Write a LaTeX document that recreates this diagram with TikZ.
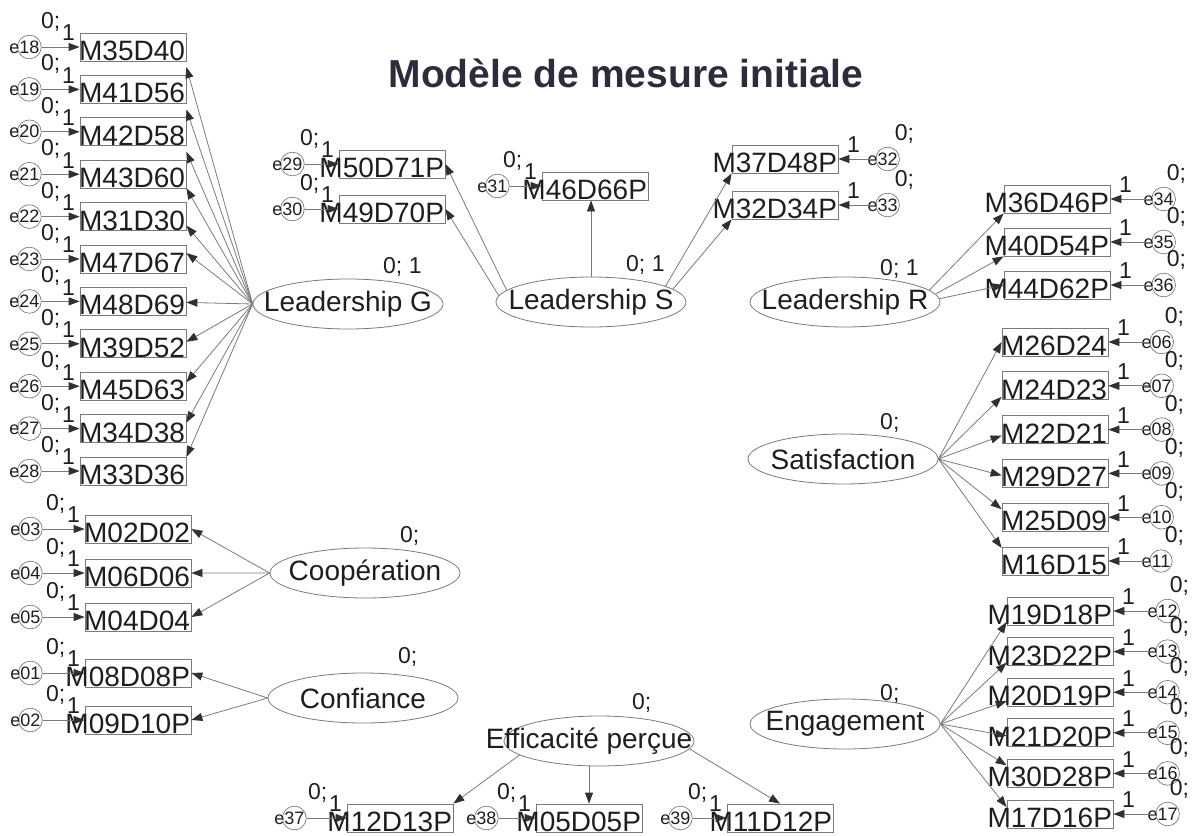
\documentclass[tikz,border=0pt]{standalone}
\usepackage{fontspec}
\setmainfont{Liberation Sans}
\usetikzlibrary{arrows.meta, positioning, shapes.geometric, calc}
\definecolor{linegray}{HTML}{7A7A7A}
\definecolor{tipgray}{HTML}{303030}
\definecolor{inkgray}{HTML}{1E1E1E}
\definecolor{titleink}{HTML}{2C2C3C}
\newcommand\indfont{\fontsize{28}{30}\selectfont}
\newcommand\lblfont{\fontsize{23}{25}\selectfont}
\newcommand\errfont{\fontsize{18}{20}\selectfont}
\newcommand\obsname[1]{\makebox[104pt][r]{\raisebox{0pt}[27pt][0pt]{#1}}}
\newcommand\latname[1]{\makebox[0pt]{#1}}

\begin{document}
\begin{tikzpicture}[
    x=1pt, y=-1pt,
    text=inkgray,
    headline/.style={font=\bfseries\fontsize{39}{41}\selectfont, text=titleink, inner sep=0pt},
    ind/.style={draw=linegray, line width=0.8pt, minimum width=106, minimum height=28, inner sep=0pt, font=\indfont},
    lat/.style={ellipse, draw=linegray, line width=0.8pt, minimum width=190, minimum height=50, inner sep=0pt, font=\indfont},
    err/.style={circle, draw=linegray, line width=0.7pt, minimum size=21, inner sep=0pt, font=\errfont},
    lbl/.style={inner sep=0pt, font=\lblfont},
    load/.style={draw=linegray, line width=0.8pt, -{Triangle[length=11pt, width=8pt, color=tipgray]}}
]
  \useasboundingbox (0,0) rectangle (1196,835);
  \node[headline] (title) at (626,73) {Modèle de mesure initiale};

  % latent variables
  \node[lat] (LG) at (348,304) {\latname{Leadership G}};
  \node[lat] (LS) at (591,302) {\latname{Leadership S}};
  \node[lat] (LR) at (845,302) {\latname{Leadership R}};
  \node[lat] (Sat) at (843,459) {\latname{Satisfaction}};
  \node[lat] (Coop) at (365,573) {\latname{Coopération}};
  \node[lat] (Conf) at (363,698) {\latname{Confiance}};
  \node[lat] (Eng) at (845,724) {\latname{Engagement}};
  \node[lat] (EP) at (599,741) {\latname{\hspace*{-20pt}Efficacité perçue}};
  \node[lbl, anchor=west] (vLG) at ($(LG)+(35,-37)$) {0; 1};
  \node[lbl, anchor=west] (vLS) at ($(LS)+(35,-37)$) {0; 1};
  \node[lbl, anchor=west] (vLR) at ($(LR)+(35,-33)$) {0; 1};
  \node[lbl, anchor=west] (vSat) at ($(Sat)+(37,-36)$) {0;};
  \node[lbl, anchor=west] (vCoop) at ($(Coop)+(35,-37)$) {0;};
  \node[lbl, anchor=west] (vConf) at ($(Conf)+(35,-41)$) {0;};
  \node[lbl, anchor=west] (vEng) at ($(Eng)+(35,-30)$) {0;};
  \node[lbl, anchor=west] (vEP) at ($(EP)+(33,-38)$) {0;};

  % Leadership G indicators
  \node[ind] (g1) at (133,47) {\obsname{M35D40}};
  \node[ind, below=13.6pt of g1] (g2) {\obsname{M41D56}};
  \node[ind, below=13.6pt of g2] (g3) {\obsname{M42D58}};
  \node[ind, below=13.6pt of g3] (g4) {\obsname{M43D60}};
  \node[ind, below=13.6pt of g4] (g5) {\obsname{M31D30}};
  \node[ind, below=13.6pt of g5] (g6) {\obsname{M47D67}};
  \node[ind, below=13.6pt of g6] (g7) {\obsname{M48D69}};
  \node[ind, below=13.6pt of g7] (g8) {\obsname{M39D52}};
  \node[ind, below=13.6pt of g8] (g9) {\obsname{M45D63}};
  \node[ind, below=13.6pt of g9] (g10) {\obsname{M34D38}};
  \node[ind, below=13.6pt of g10] (g11) {\obsname{M33D36}};

  % Coopération, Confiance
  \node[ind] (c1) at (138,529) {\obsname{M02D02}};
  \node[ind, below=15.2pt of c1] (c2) {\obsname{M06D06}};
  \node[ind, below=15.2pt of c2] (c3) {\obsname{M04D04}};
  \node[ind] (f1) at (138,673) {\obsname{M08D08P}};
  \node[ind, below=18.2pt of f1] (f2) {\obsname{M09D10P}};

  % Leadership S
  \node[ind] (s1) at (392,164) {\obsname{M50D71P}};
  \node[ind, below=16.2pt of s1] (s2) {\obsname{M49D70P}};
  \node[ind] (s3) at (595,186) {\obsname{M46D66P}};
  \node[ind] (r1) at (785,159) {\obsname{M37D48P}};
  \node[ind, below=17.2pt of r1] (r2) {\obsname{M32D34P}};

  % Leadership R
  \node[ind] (q1) at (1057,199) {\obsname{M36D46P}};
  \node[ind, below=14.2pt of q1] (q2) {\obsname{M40D54P}};
  \node[ind, below=14.2pt of q2] (q3) {\obsname{M44D62P}};

  % Satisfaction
  \node[ind] (t1) at (1055,342) {\obsname{M26D24}};
  \node[ind, below=15pt of t1] (t2) {\obsname{M24D23}};
  \node[ind, below=15pt of t2] (t3) {\obsname{M22D21}};
  \node[ind, below=15pt of t3] (t4) {\obsname{M29D27}};
  \node[ind, below=15pt of t4] (t5) {\obsname{M25D09}};
  \node[ind, below=15pt of t5] (t6) {\obsname{M16D15}};

  % Engagement
  \node[ind] (u1) at (1060,611) {\obsname{M19D18P}};
  \node[ind, below=11.8pt of u1] (u2) {\obsname{M23D22P}};
  \node[ind, below=11.8pt of u2] (u3) {\obsname{M20D19P}};
  \node[ind, below=11.8pt of u3] (u4) {\obsname{M21D20P}};
  \node[ind, below=11.8pt of u4] (u5) {\obsname{M30D28P}};
  \node[ind, below=11.8pt of u5] (u6) {\obsname{M17D16P}};

  % Efficacité perçue
  \node[ind] (p1) at (400,818) {\obsname{M12D13P}};
  \node[ind, right=82.2pt of p1] (p2) {\obsname{M05D05P}};
  \node[ind, right=84.2pt of p2] (p3) {\obsname{M11D12P}};

  % error terms, left of the boxes
  \foreach \bx/\en/\dx in {g1/18/38, g2/19/38, g3/20/38, g4/21/38, g5/22/38, g6/23/38,
      g7/24/38, g8/25/38, g9/26/38, g10/27/38, g11/28/38, c1/03/42, c2/04/42, c3/05/42,
      f1/01/42, f2/02/42, s1/29/34, s2/30/34, s3/31/32, p1/37/40, p2/38/37, p3/39/34} {
    \node[err, left=\dx pt of \bx] (e\en) {\llap{e}\en};
    \draw[load] (e\en) -- (\bx.west);
    \node[lbl] (z\en) at ($(\bx.west)+(-29,-25)$) {0;};
    \node[lbl] (o\en) at ($(\bx.west)+(-11,-14)$) {1};
  }
  % error terms, right of the boxes
  \foreach \bx/\en/\dx in {r1/32/37, r2/33/37, q1/34/41, q2/35/41, q3/36/41,
      t1/06/41, t2/07/41, t3/08/41, t4/09/41, t5/10/41, t6/11/41,
      u1/12/42, u2/13/42, u3/14/42, u4/15/42, u5/16/42, u6/17/42} {
    \node[err, right=\dx pt of \bx] (e\en) {\llap{e}\en};
    \draw[load] (e\en) -- (\bx.east);
    \node[lbl] (z\en) at ($(\bx.east)+(66,-25)$) {0;};
    \node[lbl] (o\en) at ($(\bx.east)+(15,-14)$) {1};
  }

  % loadings
  \foreach \i/\dy in {1/20, 2/20, 3/20, 4/14, 5/9, 6/-6, 7/1, 8/-2, 9/-4, 10/-6, 11/-14}
    \draw[load] (LG.west) -- ($(g\i.east)+(0,\dy)$);
  \foreach \i in {1,2,3}
    \draw[load] (Coop.west) -- (c\i.east);
  \foreach \i in {1,2}
    \draw[load] (Conf.west) -- (f\i.east);
  \draw[load] (LS.172) -- (s1.east);
  \draw[load] (LS.176) -- (s2.east);
  \draw[load] (LS.north) -- (LS.north |- s3.south);
  \draw[load] (LS.12) -- (r1.south west);
  \draw[load] (LS.9) -- (r2.south west);
  \draw[load] (LR.8) -- (q1.south west);
  \draw[load] (LR.5) -- (q2.south west);
  \draw[load] (LR.2) -- (q3.west);
  \foreach \i/\dy in {1/0, 2/11, 3/6, 4/2, 5/-8, 6/-13}
    \draw[load] (Sat.east) -- ($(t\i.west)+(0,\dy)$);
  \foreach \i/\dy in {1/11, 2/11, 3/9, 4/3, 5/-8, 6/-7}
    \draw[load] (Eng.east) -- ($(u\i.west)+(0,\dy)$);
  \draw[load] (EP.190) -- (p1.north east);
  \draw[load] (p2.north |- EP.south) -- (p2.north);
  \draw[load] (EP.-5) -- (p3.north);
\end{tikzpicture}
\end{document}
